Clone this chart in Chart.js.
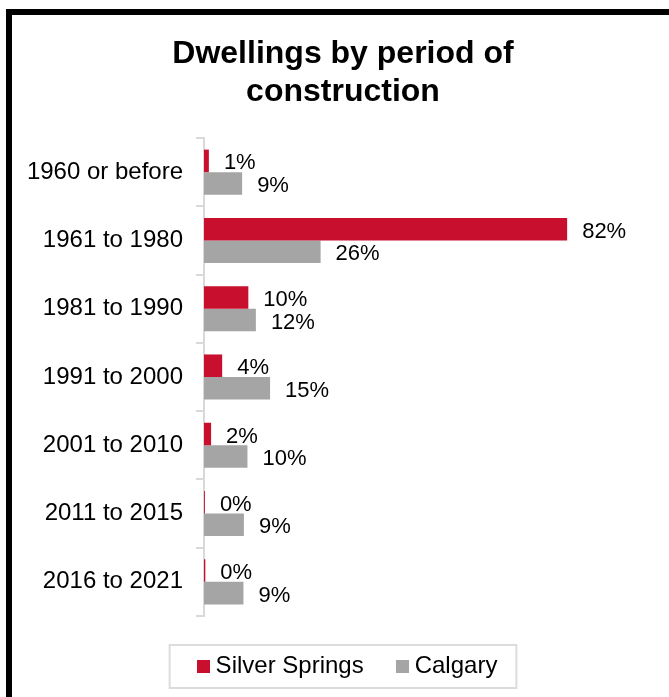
<!DOCTYPE html>
<html>
<head>
<meta charset="utf-8">
<script src="https://cdn.jsdelivr.net/npm/chart.js@4.4.1/dist/chart.umd.min.js"></script>
<style>
  html, body { margin: 0; padding: 0; background: #fff; overflow: hidden; width: 669px; height: 697px; }
  #frame { position: absolute; left: 6px; top: 9px; width: 900px; height: 900px; border-left: 6px solid #000; border-top: 6px solid #000; }
  #c { position: absolute; left: 12px; top: 15px; }
</style>
</head>
<body>
<div id="frame"></div>
<canvas id="c" width="662" height="682"></canvas>
<script>
const categories = ['1960 or before', '1961 to 1980', '1981 to 1990', '1991 to 2000', '2001 to 2010', '2011 to 2015', '2016 to 2021'];
const seriesNames = ['Silver Springs', 'Calgary'];
const silverSprings = [1.1, 81.9, 10.0, 4.1, 1.6, 0.2, 0.3];
const calgary = [8.6, 26.3, 11.7, 14.9, 9.8, 9.0, 8.9];
const titleLines = ['Dwellings by period of', 'construction'];
const seriesColors = ['#C8102E', '#A5A5A5'];

const FONT = "'Liberation Sans', Arial, sans-serif";
Chart.defaults.color = '#000';
Chart.defaults.font.family = FONT;

function swatch(color) {
  const c = document.createElement('canvas');
  c.width = 13; c.height = 13;
  const g = c.getContext('2d');
  g.fillStyle = color; g.fillRect(0, 0, 13, 13);
  return c;
}
const swatches = seriesColors.map(swatch);

const valueLabels = {
  id: 'valueLabels',
  afterDatasetsDraw(chart) {
    const ctx = chart.ctx;
    ctx.save();
    ctx.font = '22px ' + FONT;
    ctx.fillStyle = '#000';
    ctx.textAlign = 'left';
    ctx.textBaseline = 'middle';
    chart.data.datasets.forEach((ds, di) => {
      const meta = chart.getDatasetMeta(di);
      meta.data.forEach((el, i) => {
        ctx.fillText(Math.round(ds.data[i]) + '%', el.x + 15, el.y + 2.5);
      });
    });
    ctx.restore();
  }
};

const legendShift = {
  id: 'legendShift',
  afterLayout(chart) {
    if (chart.legend) { chart.legend.left += 7; chart.legend.right += 7; }
  }
};

const legendBorder = {
  id: 'legendBorder',
  afterDraw(chart) {
    const hb = chart.legend && chart.legend.legendHitBoxes;
    if (!hb || !hb.length) return;
    const ctx = chart.ctx;
    const left = hb[0].left - 33;
    const right = hb[hb.length - 1].left + hb[hb.length - 1].width + 19;
    const cy = hb[0].top + 12;
    ctx.save();
    ctx.strokeStyle = '#dcdcdc';
    ctx.lineWidth = 2;
    ctx.strokeRect(left, cy - 21, right - left, 43);
    ctx.restore();
  }
};

new Chart(document.getElementById('c'), {
  type: 'bar',
  data: {
    labels: categories,
    datasets: [
      { label: seriesNames[0], data: silverSprings, backgroundColor: seriesColors[0], barPercentage: 1, categoryPercentage: 0.66 },
      { label: seriesNames[1], data: calgary, backgroundColor: seriesColors[1], barPercentage: 1, categoryPercentage: 0.66 }
    ]
  },
  options: {
    indexAxis: 'y',
    responsive: false,
    devicePixelRatio: 1,
    animation: false,
    layout: { padding: { left: 0, right: 0, top: 0, bottom: 9 } },
    scales: {
      x: { display: false, min: 0, max: 106 },
      y: {
        afterFit(s) { s.width = 192; },
        grid: { drawOnChartArea: false, tickLength: 8, color: '#d9d9d9', lineWidth: 2 },
        border: { color: '#d9d9d9', width: 2 },
        ticks: { font: { size: 24 }, color: '#000', padding: 13 }
      }
    },
    plugins: {
      title: {
        display: true,
        text: titleLines,
        color: '#000',
        font: { size: 32, weight: 'bold', lineHeight: 38 / 32 },
        padding: { top: 20, bottom: 27 }
      },
      legend: {
        position: 'bottom',
        labels: {
          usePointStyle: true,
          pointStyleWidth: 1,
          boxHeight: 13,
          padding: 38,
          font: { size: 24 },
          color: '#000',
          generateLabels(chart) {
            const items = Chart.defaults.plugins.legend.labels.generateLabels(chart);
            items.forEach((it, i) => { it.pointStyle = swatches[i]; });
            return items;
          }
        }
      },
      tooltip: { enabled: false }
    }
  },
  plugins: [legendShift, valueLabels, legendBorder]
});
</script>
</body>
</html>
